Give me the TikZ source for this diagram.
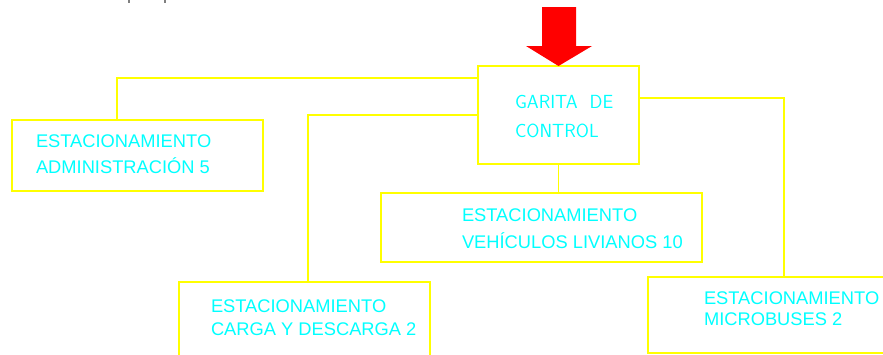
\documentclass[tikz,border=0pt]{standalone}
\usepackage{fontspec}
\setmainfont{Liberation Sans}
\usetikzlibrary{positioning}
\usetikzlibrary{calc}
\definecolor{cian}{RGB}{0,255,255}
\definecolor{amarillo}{RGB}{255,255,0}
\definecolor{rojo}{RGB}{255,0,0}

\begin{document}
\begin{tikzpicture}[x=1pt, y=-1pt,
    every node/.style={font=\fontsize{18.3}{25}\selectfont},
    area/.style={draw=amarillo, line width=1.3pt, inner sep=0pt, outer sep=0pt, anchor=north west},
    rotulo/.style={text=cian, align=left, inner sep=0pt, outer sep=0pt},
    enlace/.style={draw=amarillo, line width=1.3pt}]
  \useasboundingbox (0,0) rectangle (883,354);
  \clip (0,0) rectangle (883,354);
  \fill[white] (0,0) rectangle (883,354);
  % restos de texto arriba
  \draw[gray, line width=1.2pt] (129,0) -- (129,3);
  \draw[gray, line width=1.2pt] (165,0) -- (165,3);
  % areas
  \node[area, minimum width=161pt, minimum height=98pt] (garita) at (478,66) {};
  \node[area, minimum width=251pt, minimum height=71pt] (admin) at (12,120) {};
  \node[area, minimum width=321pt, minimum height=69pt] (veh) at (381,193) {};
  \node[area, minimum width=251pt, minimum height=90pt] (carga) at (179,282) {};
  \node[area, minimum width=272pt, minimum height=76pt] (micro) at (648,277) {};
  % textos
  \node[rotulo, font=\sffamily\fontsize{19}{29}\selectfont, below right=29pt and 37pt of garita.north west] (garitatxt) {GARITA\ \ DE\\CONTROL};
  \node[rotulo, font=\fontsize{18.3}{25.5}\selectfont, below right=15pt and 24pt of admin.north west] (admintxt) {ESTACIONAMIENTO\\ADMINISTRACIÓN 5};
  \node[rotulo, font=\fontsize{18.3}{27}\selectfont, below right=16pt and 81pt of veh.north west] (vehtxt) {ESTACIONAMIENTO\\VEHÍCULOS LIVIANOS 10};
  \node[rotulo, font=\fontsize{18.3}{23}\selectfont, below right=18pt and 32pt of carga.north west] (cargatxt) {ESTACIONAMIENTO\\CARGA Y DESCARGA 2};
  \node[rotulo, font=\fontsize{18.3}{21}\selectfont, below right=15pt and 56pt of micro.north west] (microtxt) {ESTACIONAMIENTO\\MICROBUSES 2};
  % flecha de ingreso
  \fill[rojo] (542,7) -- (576,7) -- (576,46) -- (592,46) -- (garita.north) -- (526,46) -- (542,46) -- cycle;
  % enlaces
  \draw[enlace] ([yshift=-12pt]garita.north west) -| ([xshift=-20.5pt]admin.north);
  \draw[enlace] ([yshift=-49pt]garita.north west) -| ([xshift=3.5pt]carga.north);
  \draw[enlace] (garita.south) -- (garita.south |- veh.north);
  \draw[enlace] ([yshift=17pt]garita.east) -| (micro.north);
\end{tikzpicture}
\end{document}
